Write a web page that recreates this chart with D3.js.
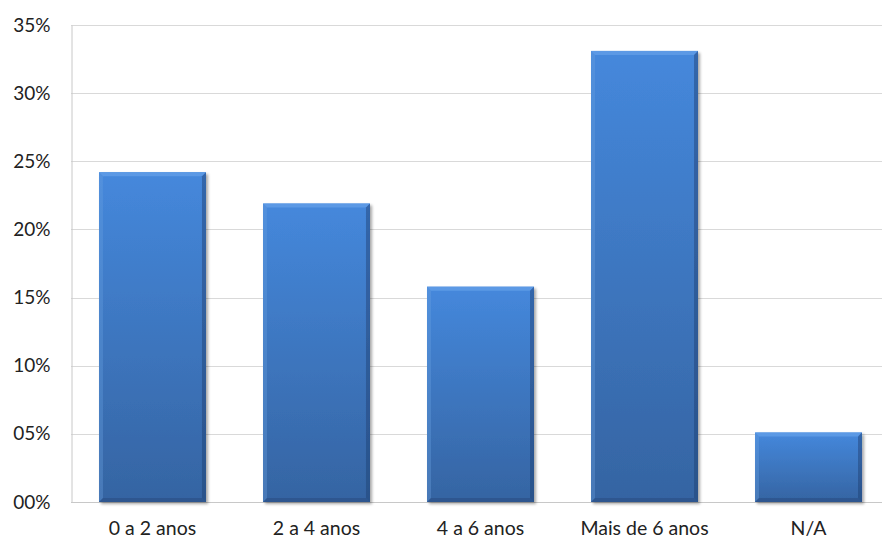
<!DOCTYPE html>
<html>
<head>
<meta charset="utf-8">
<script src="https://cdn.jsdelivr.net/npm/d3@7"></script>
<style>
  html, body { margin: 0; padding: 0; background: #fff; }
  svg { display: block; }
  text { font-family: Lato, "Open Sans", sans-serif; fill: #222; }
</style>
</head>
<body>
<svg id="chart" width="884" height="540"></svg>
<script>
// Share of respondents by years of experience
const categories = ["0 a 2 anos", "2 a 4 anos", "4 a 6 anos", "Mais de 6 anos", "N/A"];
const shares = [0.242, 0.219, 0.158, 0.331, 0.051];
const yTicks = [0, 0.05, 0.10, 0.15, 0.20, 0.25, 0.30, 0.35];
const yTickLabels = ["00%", "05%", "10%", "15%", "20%", "25%", "30%", "35%"];

const W = 884, H = 540;
const margin = { top: 25, right: 2, bottom: 38, left: 71 };
const svg = d3.select("#chart");
const defs = svg.append("defs");

const x = d3.scaleBand().domain(categories)
  .range([margin.left, margin.left + 819]).paddingInner(0.3476).paddingOuter(0.1707);
const y = d3.scaleLinear().domain([0, 0.35]).range([H - margin.bottom, margin.top]);

// Bar face gradient
const grad = defs.append("linearGradient").attr("id", "barFace")
  .attr("x1", 0).attr("y1", 0).attr("x2", 0).attr("y2", 1)
  .attr("gradientUnits", "objectBoundingBox");
grad.append("stop").attr("offset", "0%").attr("stop-color", "#4588dc");
grad.append("stop").attr("offset", "100%").attr("stop-color", "#3564a2");

const shadow = defs.append("filter").attr("id", "shadow")
  .attr("x", "-10%").attr("y", "-10%").attr("width", "130%").attr("height", "130%");
shadow.append("feGaussianBlur").attr("in", "SourceAlpha").attr("stdDeviation", 1.5);
shadow.append("feOffset").attr("dx", 1.5).attr("dy", 1.5).attr("result", "b");
shadow.append("feComponentTransfer").append("feFuncA").attr("type", "linear").attr("slope", 0.35);
const merge = shadow.append("feMerge");
merge.append("feMergeNode");
merge.append("feMergeNode").attr("in", "SourceGraphic");

// Gridlines
const grid = svg.append("g");
grid.selectAll("line").data(yTicks.slice(1)).join("line")
  .attr("x1", margin.left).attr("x2", W - margin.right)
  .attr("y1", d => Math.round(y(d)) + 0.5).attr("y2", d => Math.round(y(d)) + 0.5)
  .attr("stroke", "#d9d9d9").attr("stroke-width", 1.2);

// Y axis
const yAxis = d3.axisLeft(y).tickValues(yTicks)
  .tickFormat((d, i) => yTickLabels[i]).tickSize(0).tickPadding(21);
const gy = svg.append("g").attr("transform", `translate(${margin.left + 0.5},0)`).call(yAxis);
gy.select(".domain").attr("stroke", "#c8c8c8");
gy.selectAll("text").style("font-size", "19px").attr("fill", "#222");

// X axis
const xAxis = d3.axisBottom(x).tickSize(0).tickPadding(19);
const gx = svg.append("g").attr("transform", `translate(0,${y(0) + 0.5})`).call(xAxis);
gx.select(".domain").attr("d", `M${margin.left},0H${W - margin.right}`).attr("stroke", "#c8c8c8");
gx.selectAll("text").style("font-size", "19.5px").attr("fill", "#222");

// Bars with bevelled edges
const bev = 4;
const bars = svg.append("g").selectAll("g").data(categories.map((c, i) => ({ c, v: shares[i] })))
  .join("g").attr("filter", "url(#shadow)");

bars.append("rect")
  .attr("x", d => x(d.c)).attr("y", d => y(d.v))
  .attr("width", x.bandwidth()).attr("height", d => y(0) - y(d.v))
  .attr("fill", "url(#barFace)");

function pts(arr) { return arr.map(p => p.join(",")).join(" "); }
// top bevel
bars.append("polygon").attr("points", d => {
  const x0 = x(d.c), x1 = x0 + x.bandwidth(), t = y(d.v);
  return pts([[x0, t], [x1, t], [x1 - bev, t + bev], [x0 + bev, t + bev]]);
}).attr("fill", "#5d9be6").attr("opacity", 0.9);
// left bevel
bars.append("polygon").attr("points", d => {
  const x0 = x(d.c), t = y(d.v), b = y(0);
  return pts([[x0, t], [x0 + bev, t + bev], [x0 + bev, b - bev], [x0, b]]);
}).attr("fill", "#6aa1e0").attr("opacity", 0.35);
// right bevel
bars.append("polygon").attr("points", d => {
  const x1 = x(d.c) + x.bandwidth(), t = y(d.v), b = y(0);
  return pts([[x1, t], [x1, b], [x1 - bev, b - bev], [x1 - bev, t + bev]]);
}).attr("fill", "#1f3f6e").attr("opacity", 0.45);
// bottom bevel
bars.append("polygon").attr("points", d => {
  const x0 = x(d.c), x1 = x0 + x.bandwidth(), b = y(0);
  return pts([[x0, b], [x0 + bev, b - bev], [x1 - bev, b - bev], [x1, b]]);
}).attr("fill", "#1f3f6e").attr("opacity", 0.35);
</script>
</body>
</html>
